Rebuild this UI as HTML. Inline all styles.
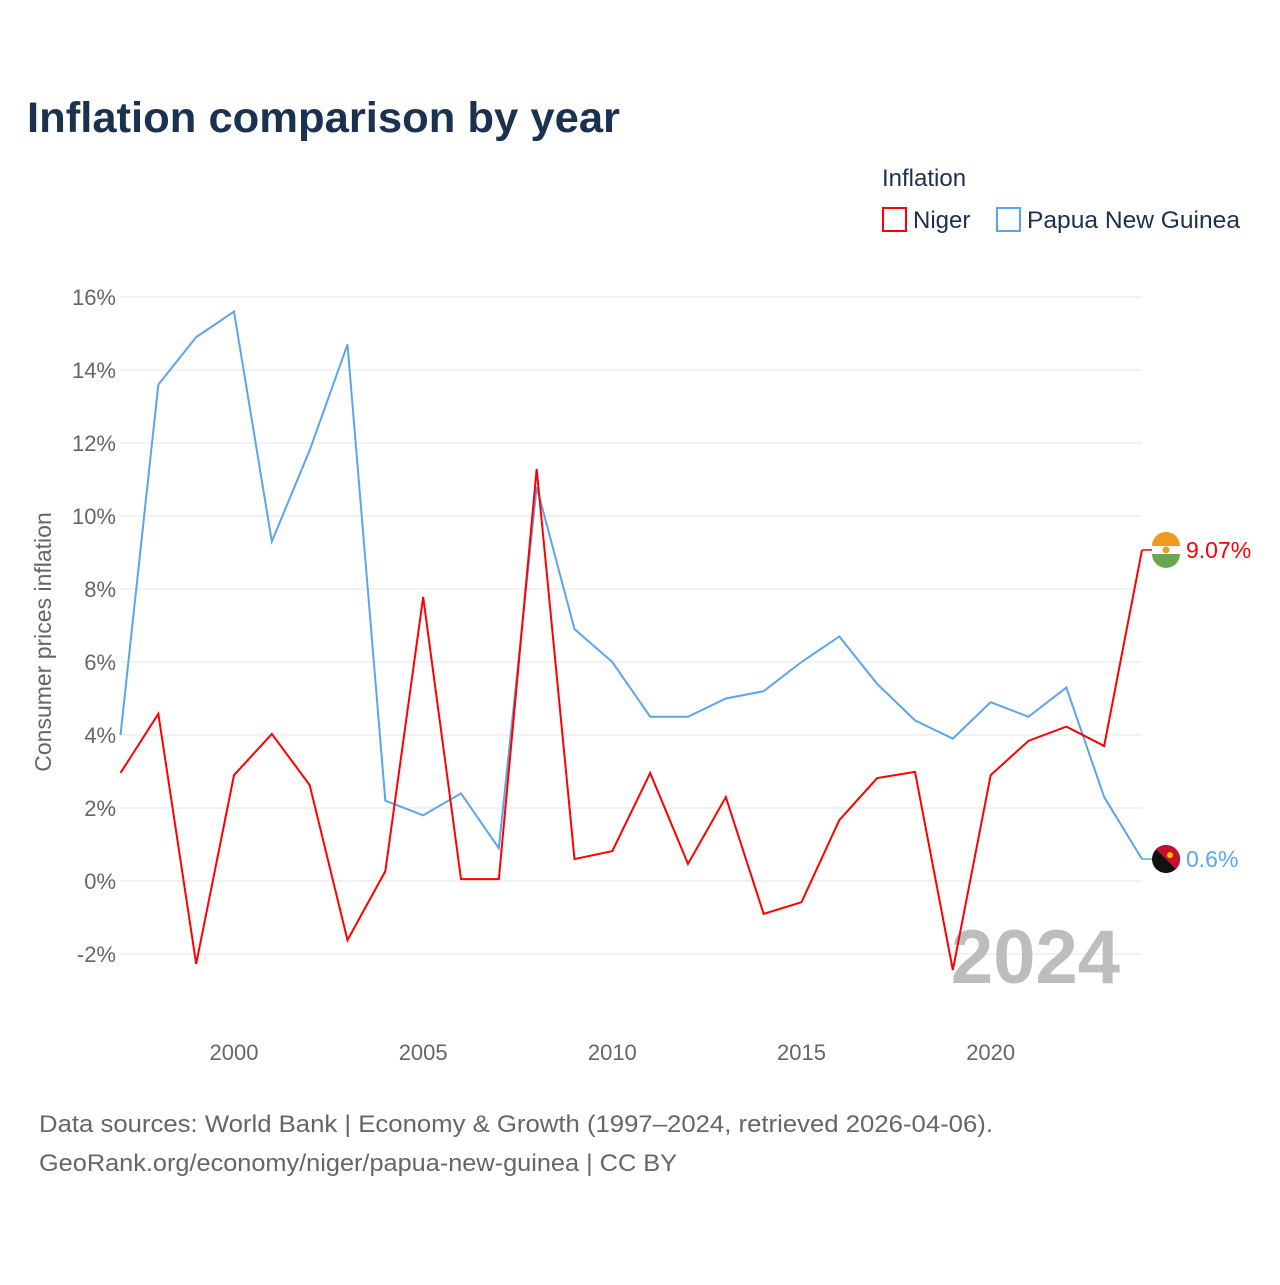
<!DOCTYPE html>
<html><head><meta charset="utf-8"><style>
body{margin:0;background:#fff;font-family:"Liberation Sans",sans-serif;}
svg text{font-family:"Liberation Sans",sans-serif;}
</style></head><body>
<svg id="chart" width="1280" height="1280" viewBox="0 0 1280 1280">
<defs><clipPath id="fc"><circle cx="1166" cy="550" r="14"/></clipPath></defs>
<text x="27" y="132" font-size="43" font-weight="bold" fill="#1a3150" textLength="593" lengthAdjust="spacingAndGlyphs">Inflation comparison by year</text>
<text x="882" y="186" font-size="24" fill="#1a3150">Inflation</text>
<g><rect x="883" y="208" width="23" height="23" fill="none" stroke="#ff0000" stroke-width="2"/><text x="913" y="228" font-size="24" fill="#1a3150">Niger</text></g>
<g><rect x="997" y="208" width="23" height="23" fill="none" stroke="#5ba6ea" stroke-width="2"/><text x="1027" y="228" font-size="24" fill="#1a3150" textLength="213" lengthAdjust="spacingAndGlyphs">Papua New Guinea</text></g>
<g id="grid"></g>
<text transform="translate(51,642) rotate(-90)" text-anchor="middle" font-size="23" fill="#666">Consumer prices inflation</text>
<text x="1120" y="983" text-anchor="end" font-size="76" font-weight="bold" fill="#bdbdbd">2024</text>
<g id="series"></g>
<text x="39" y="1132" font-size="24" fill="#666" textLength="954" lengthAdjust="spacingAndGlyphs">Data sources: World Bank | Economy &amp; Growth (1997–2024, retrieved 2026-04-06).</text>
<text x="39" y="1171" font-size="24" fill="#666" textLength="638" lengthAdjust="spacingAndGlyphs">GeoRank.org/economy/niger/papua-new-guinea | CC BY</text>
</svg>
<script>
const years=[1997,1998,1999,2000,2001,2002,2003,2004,2005,2006,2007,2008,2009,2010,2011,2012,2013,2014,2015,2016,2017,2018,2019,2020,2021,2022,2023,2024];
const niger=[2.96,4.58,-2.27,2.9,4.03,2.63,-1.62,0.27,7.78,0.05,0.05,11.29,0.6,0.82,2.96,0.47,2.3,-0.9,-0.58,1.67,2.82,2.99,-2.44,2.9,3.84,4.23,3.7,9.07];
const png=[4.0,13.6,14.9,15.6,9.3,11.8,14.7,2.2,1.8,2.4,0.9,10.8,6.9,6.0,4.5,4.5,5.0,5.2,6.0,6.7,5.4,4.4,3.9,4.9,4.5,5.3,2.3,0.6];
const yTicks=[-2,0,2,4,6,8,10,12,14,16];
const xTicks=[2000,2005,2010,2015,2020];
const NS="http://www.w3.org/2000/svg";
const X=y=>120.5+(y-1997)*(1142-120.5)/27;
const Y=v=>881-v*36.5;
function mk(t,a,p){const e=document.createElementNS(NS,t);for(const k in a)e.setAttribute(k,a[k]);p.appendChild(e);return e;}
const g=document.getElementById('grid');
yTicks.forEach(v=>{
 const l=mk('line',{x1:120,x2:1142,y1:Y(v),y2:Y(v),stroke:'#e6e6e6','stroke-width':1},g);
 
 
 const t=mk('text',{x:116,y:Y(v)+8,'text-anchor':'end','font-size':22,fill:'#666'},g);
 t.textContent=v+'%';
 
 
});
xTicks.forEach(v=>{
 const t=mk('text',{x:X(v),y:1060,'text-anchor':'middle','font-size':22,fill:'#666'},g);
 t.textContent=v;
 
 
});
const s=document.getElementById('series');
function line(data,color,name){
 const p=mk('polyline',{points:data.map((v,i)=>X(years[i])+','+Y(v)).join(' '),fill:'none',stroke:color,'stroke-width':2},s);
 
 
}
line(png,'#5ba6ea','line-png');
line(niger,'#ff0000','line-niger');
function endLabel(v,color,txt,name,isNiger){
 const y=Y(v);
 mk('line',{x1:1142,x2:1152,y1:y,y2:y,stroke:color,'stroke-width':1.5},s);
 const fg=mk('g',{},s);
 
 
 if(isNiger){
  mk('circle',{cx:1166,cy:y,r:14,fill:'#fff'},fg);
  mk('path',{d:`M1152 ${y-4} A14 14 0 0 1 1180 ${y-4} Z`,fill:'#f39a1e'},fg);
  mk('path',{d:`M1152 ${y+4} A14 14 0 0 0 1180 ${y+4} Z`,fill:'#6aa84f'},fg);
  mk('circle',{cx:1166,cy:y,r:3.5,fill:'#f39a1e'},fg);
 }else{
  mk('circle',{cx:1166,cy:y,r:14,fill:'#111'},fg);
  mk('path',{d:`M1156 ${y-10} A14 14 0 0 1 1176 ${y+10} Z`,fill:'#c8102e'},fg);
  mk('circle',{cx:1170,cy:y-4,r:3,fill:'#f5c400'},fg);
 }
 const t=mk('text',{x:1186,y:y+8,'font-size':23,fill:color},s);
 t.textContent=txt;
 
 
}
endLabel(niger[niger.length-1],'#ff0000',niger[niger.length-1]+'%','niger-end',true);
endLabel(png[png.length-1],'#5ba6ea',png[png.length-1]+'%','png-end',false);
</script>
</body></html>
